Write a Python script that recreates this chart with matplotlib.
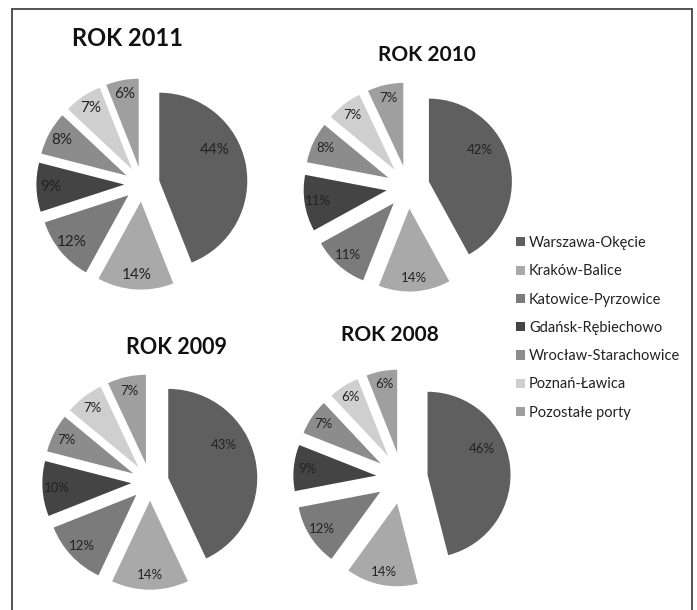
import numpy as np
import matplotlib
matplotlib.use('Agg')
import matplotlib.pyplot as plt
from matplotlib.patches import Rectangle

plt.rcParams['font.family'] = ['Lato', 'DejaVu Sans']

airports = ['Warszawa-Okęcie', 'Kraków-Balice', 'Katowice-Pyrzowice',
            'Gdańsk-Rębiechowo', 'Wrocław-Starachowice', 'Poznań-Ławica',
            'Pozostałe porty']
colors = ['#5f5f5f', '#a9a9a9', '#7b7b7b', '#444444', '#8c8c8c', '#cfcfcf', '#9f9f9f']

years = ['2011', '2010', '2009', '2008']
share_2011 = [44, 14, 12, 9, 8, 7, 6]
share_2010 = [42, 14, 11, 11, 8, 7, 7]
share_2009 = [43, 14, 12, 10, 7, 7, 7]
share_2008 = [46, 14, 12, 9, 7, 6, 6]
shares = [share_2011, share_2010, share_2009, share_2008]

W, H = 697, 610
LIM = 1.45

# pixel layout for each pie: centre x, centre y (from top), radius, explode
layout = [(142, 184, 88, 0.20),
          (408, 187, 83, 0.26),
          (150, 482, 89, 0.21),
          (402, 478, 83, 0.31)]
titles = [(127, 38, 17), (427, 55, 15), (176, 347, 15.5), (390, 335, 15)]
label_size = [11, 9.5, 9.5, 9.5]

fig = plt.figure(figsize=(W / 100, H / 100), dpi=100)
fig.patch.set_facecolor('white')

first_wedges = None
for i, (vals, (cx, cy, r, ex)) in enumerate(zip(shares, layout)):
    ax = fig.add_axes([(cx - LIM * r) / W, (H - cy - LIM * r) / H,
                       2 * LIM * r / W, 2 * LIM * r / H])
    wedges, texts, pcts = ax.pie(vals, colors=colors, startangle=90, counterclock=False,
                                 explode=[ex] * len(vals), autopct=lambda p: f'{p:.0f}%',
                                 pctdistance=0.84,
                                 textprops=dict(fontsize=label_size[i], color='#222222'))
    # big slice label sits higher and closer to the apex
    w0 = wedges[0]
    mid = np.deg2rad((w0.theta1 + w0.theta2) / 2)
    ax0, ay0 = ex * np.cos(mid), ex * np.sin(mid)
    pcts[0].set_position((ax0 + 0.72 * np.cos(mid + np.deg2rad(18)),
                          ay0 + 0.72 * np.sin(mid + np.deg2rad(18))))
    ax.set_xlim(-LIM, LIM)
    ax.set_ylim(-LIM, LIM)
    ax.set_aspect('equal')
    ax.axis('off')
    if first_wedges is None:
        first_wedges = wedges

for yr, (tx, ty, fs) in zip(years, titles):
    fig.text(tx / W, 1 - ty / H, f'ROK {yr}', ha='center', va='center',
             fontsize=fs, fontweight='bold', color='#111111')

fig.legend(first_wedges, airports, loc='upper left',
           bbox_to_anchor=(516 / W, 1 - 236 / H), frameon=False,
           fontsize=10.5, handlelength=0.6, handleheight=0.6, handletextpad=0.3,
           labelspacing=0.98, borderpad=0, borderaxespad=0, labelcolor='#222222')

# outer frame, bottom edge runs off the canvas
fig.add_artist(Rectangle((12 / W, -0.05), (692 - 12) / W, 1.05 - 9 / H,
                         transform=fig.transFigure, fill=False,
                         edgecolor='#444444', linewidth=1.3, clip_on=False))

fig.savefig('out.png', dpi=100)
